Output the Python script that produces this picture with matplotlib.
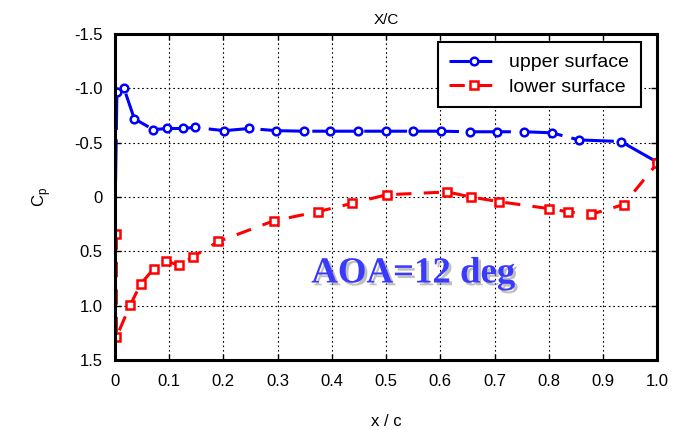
import matplotlib.pyplot as plt
import matplotlib.patheffects as pe
import numpy as np

plt.rcParams['font.family'] = ['Liberation Sans', 'DejaVu Sans']

# upper surface
x_upper = [0.0, 0.004, 0.017, 0.036, 0.071, 0.097, 0.125, 0.147, 0.202, 0.248, 0.298,
           0.349, 0.397, 0.449, 0.500, 0.549, 0.601, 0.655, 0.704, 0.755, 0.806, 0.855,
           0.933, 1.0]
cp_upper = [0.34, -0.97, -1.0, -0.72, -0.62, -0.63, -0.63, -0.64, -0.61, -0.63, -0.61,
            -0.605, -0.605, -0.605, -0.605, -0.605, -0.605, -0.60, -0.60, -0.60, -0.59,
            -0.525, -0.51, -0.32]

# lower surface
x_lower = [0.003, 0.003, 0.029, 0.048, 0.072, 0.095, 0.119, 0.144, 0.191, 0.293, 0.374,
           0.437, 0.501, 0.613, 0.656, 0.709, 0.801, 0.835, 0.878, 0.938, 1.0]
cp_lower = [0.345, 1.29, 0.99, 0.80, 0.66, 0.59, 0.63, 0.55, 0.41, 0.22, 0.136, 0.06,
            -0.02, -0.046, 0.0, 0.044, 0.108, 0.136, 0.16, 0.07, -0.31]

fig = plt.figure(figsize=(6.79, 4.30), dpi=100)
ax = fig.add_axes([0.169, 0.163, 0.799, 0.758])

ax.plot(x_upper, cp_upper, color='#0000ff', lw=2.2, marker='o', ms=5.5,
        mfc='white', mec='#0000ff', mew=1.8, dashes=(14, 3), label='upper surface')
ax.plot(x_lower, cp_lower, color='#ff0000', lw=2.2, marker='s', ms=5.5,
        mfc='white', mec='#ff0000', mew=1.8, dashes=(5, 4), label='lower surface')

ax.set_xlim(0, 1.0)
ax.set_ylim(1.5, -1.5)
ax.set_xticks(np.arange(0, 1.01, 0.1))
ax.set_xticklabels(['0', '0.1', '0.2', '0.3', '0.4', '0.5', '0.6', '0.7', '0.8', '0.9', '1.0'])
ax.set_yticks([-1.5, -1.0, -0.5, 0, 0.5, 1.0, 1.5])
ax.set_yticklabels(['-1.5', '-1.0', '-0.5', '0', '0.5', '1.0', '1.5'])
ax.tick_params(direction='in', top=True, right=True, labelsize=12, length=4, width=1)
ax.tick_params(axis='x', pad=10)
ax.tick_params(axis='y', pad=9)
ax.grid(True, color='black', linestyle=(0, (1.5, 2.5)), linewidth=0.8)
for s in ax.spines.values():
    s.set_linewidth(2.2)

ax.set_xlabel('x / c', fontsize=12, labelpad=18)
ax.set_ylabel('C$_\\mathregular{p}$', fontsize=12, labelpad=15)
ax.set_title('X/C', fontsize=11, pad=7)

leg = ax.legend(loc='upper right', fontsize=14, frameon=True, fancybox=False,
                edgecolor='black', framealpha=1, handlelength=2.6, handletextpad=0.5,
                borderpad=0.6, labelspacing=0.35, borderaxespad=0,
                bbox_to_anchor=(0.97, 0.975))
leg.get_frame().set_linewidth(1.5)

ax.text(0.55, 0.70, 'AOA=12 deg', family=['Liberation Serif', 'DejaVu Serif'],
        fontsize=26.5, fontweight='bold', color='#3a3aff', ha='center', va='center',
        transform=ax.transData,
        path_effects=[pe.withSimplePatchShadow(offset=(2, -2), shadow_rgbFace='gray',
                                               alpha=0.5)])

fig.savefig('out.png', dpi=100)
